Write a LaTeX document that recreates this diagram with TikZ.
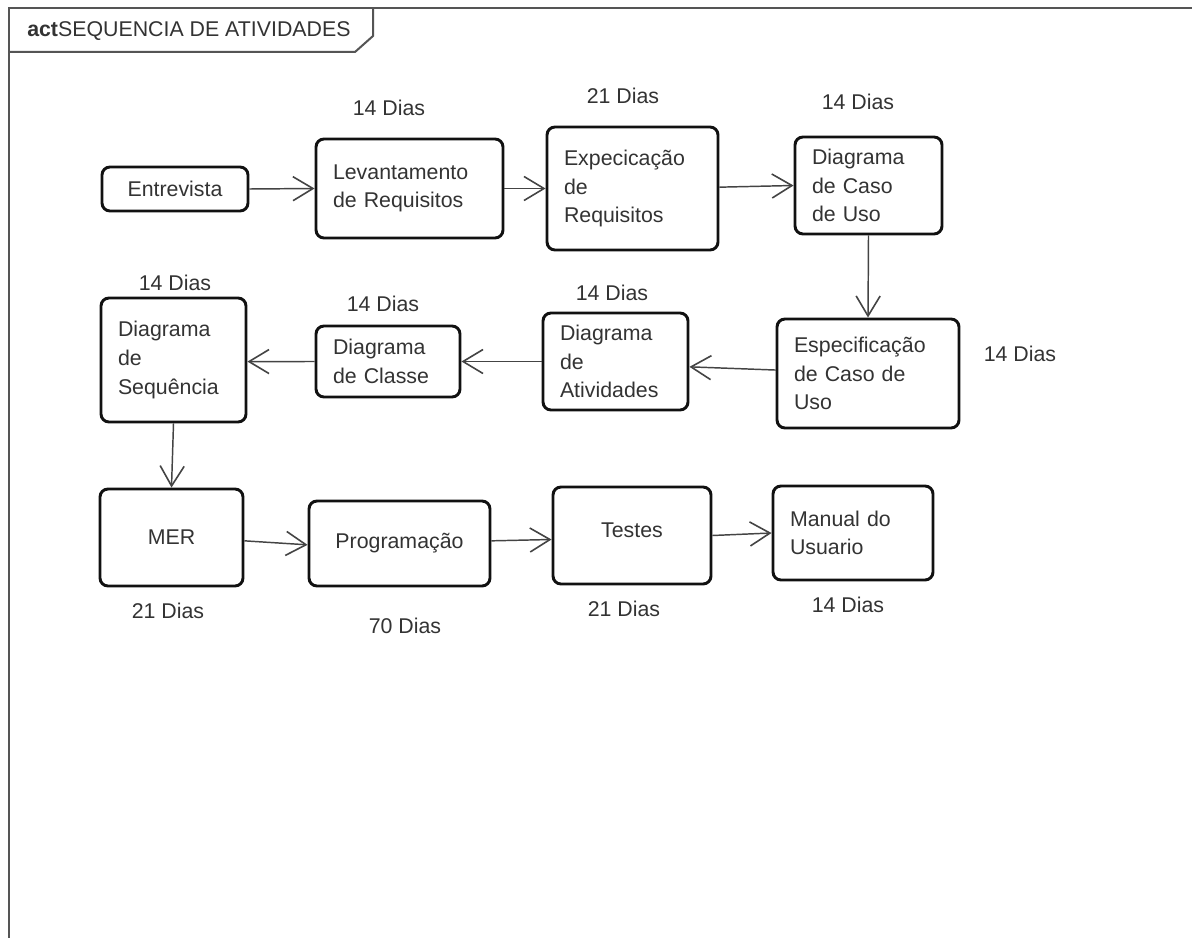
\documentclass[tikz,border=0pt]{standalone}
\usepackage{fontspec}
\setmainfont{Liberation Sans}
\usetikzlibrary{arrows.meta}
\definecolor{ink}{HTML}{333333}
\definecolor{edge}{HTML}{111111}
\definecolor{wire}{HTML}{444444}
\definecolor{framec}{HTML}{555555}
\begin{document}
\begin{tikzpicture}[x=0.75pt,y=-0.75pt,
  every node/.style={font=\fontsize{16}{21.5}\selectfont, text=ink},
  act/.style 2 args={draw=edge, line width=2.2pt, rounded corners=6pt,
    minimum width=#1*0.75pt, minimum height=#2*0.75pt,
    inner xsep=12.75pt, inner ysep=0pt,
    text width=(#1-34)*0.75pt, align=left},
  actc/.style 2 args={act={#1}{#2}, align=center},
  flow/.style={draw=wire, line width=1.1pt,
    -{Straight Barb[length=15pt,width=18pt,line width=1.2pt]}},
  dur/.style={inner sep=0pt}]
  \useasboundingbox (0,0) rectangle (1192,938);
  \fill[white] (0,0) rectangle (1192,938);

  % activity frame with its name tab
  \draw[framec, line width=1.5pt] (9,938) -- (9,8) -- (1192,8);
  \draw[framec, line width=1.5pt] (9,52) -- (355,52) -- (373,36) -- (373,8);
  \node[anchor=west, inner sep=0pt] (title) at (27,31)
    {\textbf{act}SEQUENCIA DE ATIVIDADES};

  % activities
  \node[actc={146}{44}]  (ent) at (175,189)    {Entrevista};
  \node[act={187}{99}]   (lev) at (409.5,188.5) {Levantamento\\de Requisitos};
  \node[act={171}{123}]  (exp) at (632.5,188.5) {Expecicação\\de\\Requisitos};
  \node[act={147}{97}]   (dcu) at (868.5,185.5) {Diagrama\\de Caso\\de Uso};
  \node[act={182}{109}]  (esp) at (868,373.5)   {Especificação\\de Caso de\\Uso};
  \node[act={145}{97}]   (dat) at (615.5,361.5) {Diagrama\\de\\Atividades};
  \node[act={144}{71}]   (dcl) at (388,361.5)   {Diagrama\\de Classe};
  \node[act={145}{124}]  (dsq) at (173.5,360)   {Diagrama\\de\\Sequência};
  \node[actc={143}{97}]  (mer) at (171.5,537.5) {MER};
  \node[actc={181}{85}]  (prg) at (399.5,543.5) {Programação};
  \node[actc={158}{97}]  (tst) at (632,535.5)   {\raisebox{8pt}{Testes}};
  \node[act={160}{94}]   (man) at (853,533)     {Manual do\\Usuario};

  % durations
  \node[dur] (dlev) at (389,108)  {14 Dias};
  \node[dur] (dexp) at (623,96)   {21 Dias};
  \node[dur] (ddcu) at (858,102)  {14 Dias};
  \node[dur] (desp) at (1020,354) {14 Dias};
  \node[dur] (ddat) at (612,293)  {14 Dias};
  \node[dur] (ddcl) at (383,304)  {14 Dias};
  \node[dur] (ddsq) at (175,283)  {14 Dias};
  \node[dur] (dmer) at (168,611)  {21 Dias};
  \node[dur] (dprg) at (405,626)  {70 Dias};
  \node[dur] (dtst) at (624,609)  {21 Dias};
  \node[dur] (dman) at (848,605)  {14 Dias};

  % control flow
  \draw[flow] (ent.east) -- (lev.west);
  \draw[flow] (lev.east) -- (exp.west);
  \draw[flow] ([yshift=1pt]exp.east) -- (dcu.west);
  \draw[flow] (dcu.south) -- (esp.north);
  \draw[flow] ([yshift=2.6pt]esp.west) -- ([yshift=-4pt]dat.east);
  \draw[flow] (dat.west) -- (dcl.east);
  \draw[flow] (dcl.west) -- ([yshift=-1.2pt]dsq.east);
  \draw[flow] (dsq.south) -- (mer.north);
  \draw[flow] ([yshift=-2.5pt]mer.east) -- ([yshift=-1pt]prg.west);
  \draw[flow] ([yshift=2pt]prg.east) -- ([yshift=-3pt]tst.west);
  \draw[flow] (tst.east) -- (man.west);
\end{tikzpicture}
\end{document}
